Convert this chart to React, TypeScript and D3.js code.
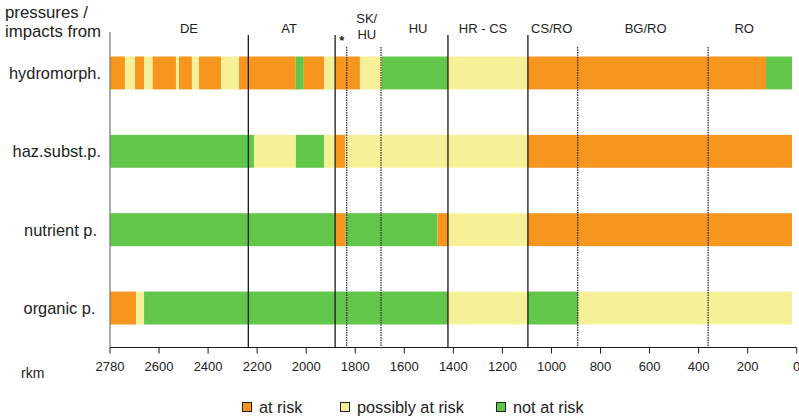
import React from "react";
import * as d3 from "d3";

const categories = ["hydromorph.", "haz.subst.p.", "nutrient p.", "organic p."];
const statusNames = ["at risk", "possibly at risk", "not at risk"];
const statusColors = ["#f7961f", "#f6f199", "#62c64b"];

// segment boundaries (rkm) and statuses (0 at risk, 1 possibly, 2 not)
const hydroBreaks = [2800, 2739, 2698, 2661, 2626, 2531, 2519, 2466, 2437, 2347, 2274, 2043, 2010, 1927, 1880, 1781, 1692, 1422, 1096, 125, 19];
const hydroStatus = [0, 1, 0, 1, 0, 1, 0, 1, 0, 1, 0, 2, 0, 1, 0, 1, 2, 1, 0, 2];
const hazBreaks = [2800, 2213, 2042, 1927, 1880, 1841, 1096, 19];
const hazStatus = [2, 1, 2, 1, 0, 1, 0];
const nutrBreaks = [2800, 1880, 1839, 1465, 1422, 1096, 19];
const nutrStatus = [2, 0, 2, 0, 1, 0];
const orgBreaks = [2800, 2694, 2661, 1422, 1096, 890, 19];
const orgStatus = [0, 1, 2, 1, 2, 1];

const rowBreaks = [hydroBreaks, hazBreaks, nutrBreaks, orgBreaks];
const rowStatus = [hydroStatus, hazStatus, nutrStatus, orgStatus];

const solidBorders = [2236, 1882, 1422, 1096];
const dottedBorders = [1835, 1695, 893, 361];

const headerNames = ["DE", "AT", "SK/|HU", "HU", "HR - CS", "CS/RO", "BG/RO", "RO"];
const headerPos = [2478, 2070, 1753, 1544, 1279, 999, 616, 214];
const starPos = 1855;

const tickValues = [2800, 2600, 2400, 2200, 2000, 1800, 1600, 1400, 1200, 1000, 800, 600, 400, 200, 0];
const tickLabels = ["2780", "2600", "2400", "2200", "2000", "1800", "1600", "1400", "1200", "1000", "800", "600", "400", "200", "0"];

const W = 799;
const H = 420;
const FONT = "'Liberation Sans', Arial, Helvetica, sans-serif";

export default function App() {
  const x = d3.scaleLinear().domain([2800, 0]).range([110, 796.7]);
  const y = d3.scaleBand().domain(categories).range([33, 348]).paddingInner(0.58).paddingOuter(0.3);
  const axisY = 347.5;
  const legendX = [242, 340, 496];
  const labelEnd = [101, 101, 97, 95.5];

  return (
    <svg width={W} height={H} style={{ position: "absolute", left: 0, top: 0, fontFamily: FONT }}>
      <rect width={W} height={H} fill="#fff" />
      {/* header */}
      <text x={5} y={18} fontSize={16.8} fill="#222">pressures /</text>
      <text x={5} y={37} fontSize={16.8} fill="#222">impacts from</text>
      {headerNames.map((n, i) => {
        const parts = n.split("|");
        if (parts.length === 2) {
          return (
            <g key={n}>
              <text x={x(headerPos[i])} y={22.5} fontSize={13} textAnchor="middle" fill="#222">{parts[0]}</text>
              <text x={x(headerPos[i])} y={38.5} fontSize={13} textAnchor="middle" fill="#222">{parts[1]}</text>
            </g>
          );
        }
        return <text key={n} x={x(headerPos[i])} y={33} fontSize={13} textAnchor="middle" fill="#222">{n}</text>;
      })}
      <text x={x(starPos)} y={45} fontSize={13} fontWeight="bold" textAnchor="middle" fill="#222">*</text>

      {/* bars */}
      {categories.map((c, r) => {
        const br = rowBreaks[r];
        const st = rowStatus[r];
        return (
          <g key={c}>
            {st.map((s, k) => (
              <rect key={k} x={x(br[k])} y={y(c)} width={x(br[k + 1]) - x(br[k])} height={y.bandwidth()} fill={statusColors[s]} />
            ))}
            <text x={labelEnd[r]} y={(y(c) as number) + y.bandwidth() / 2 + 6} fontSize={16.4} textAnchor="end" fill="#222">{c}</text>
          </g>
        );
      })}

      {/* left axis line */}
      <line x1={x(2800)} x2={x(2800)} y1={32} y2={axisY} stroke="#777" strokeWidth={1.2} />
      {/* borders */}
      {solidBorders.map((b) => (
        <line key={b} x1={x(b)} x2={x(b)} y1={35} y2={axisY} stroke="#1a1a1a" strokeWidth={1.3} />
      ))}
      {dottedBorders.map((b) => (
        <line key={b} x1={x(b)} x2={x(b)} y1={47} y2={axisY} stroke="#333" strokeWidth={1.3} strokeDasharray="1.5,1" />
      ))}

      {/* x axis */}
      <line x1={x(2800)} x2={x(0)} y1={axisY} y2={axisY} stroke="#1a1a1a" strokeWidth={1} />
      {tickValues.map((t, i) => (
        <g key={t}>
          <line x1={x(t)} x2={x(t)} y1={axisY} y2={axisY + 6} stroke="#1a1a1a" strokeWidth={1} />
          <text x={x(t)} y={371} fontSize={13} textAnchor="middle" fill="#222">{tickLabels[i]}</text>
        </g>
      ))}
      <text x={21} y={378} fontSize={14} fill="#222">rkm</text>

      {/* legend */}
      {statusNames.map((n, i) => (
        <g key={n}>
          <rect x={legendX[i] + 0.5} y={402.5} width={9} height={9} fill={statusColors[i]} stroke="#222" strokeWidth={1} />
          <text x={legendX[i] + 17} y={413} fontSize={16.3} fill="#222">{n}</text>
        </g>
      ))}
    </svg>
  );
}
